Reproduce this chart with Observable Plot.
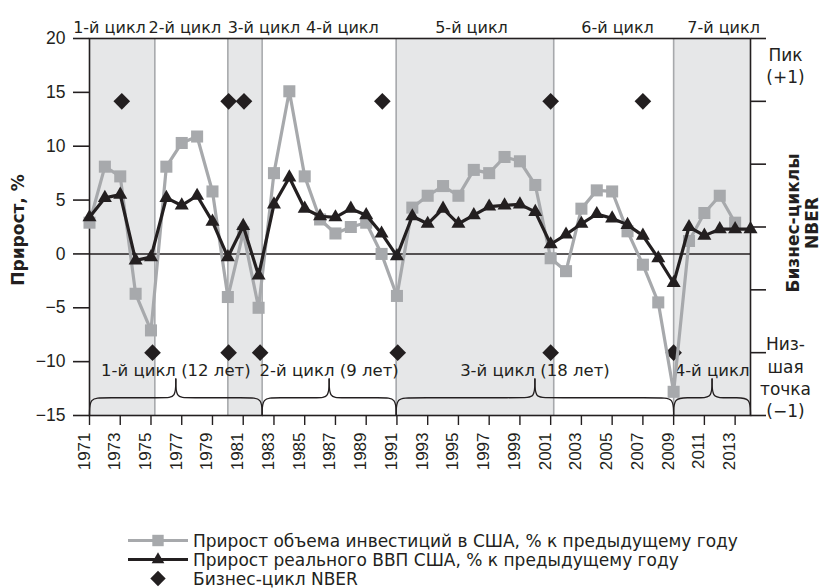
<!DOCTYPE html>
<html><head><meta charset="utf-8">
<script src="https://cdn.jsdelivr.net/npm/d3@7"></script>
<script src="https://cdn.jsdelivr.net/npm/@observablehq/plot@0.6"></script>
<style>
body{margin:0;background:#fff;font-family:"DejaVu Sans",sans-serif;color:#231f20;}
#legend{padding-top:31px;}
.row{display:flex;align-items:center;height:19px;padding-left:128px;font-size:17px;font-family:"DejaVu Sans",sans-serif;}
.row svg{margin-right:5px;}
</style></head><body><div id="chart"></div><div id="legend"></div>
<script>
const years = [1971,1972,1973,1974,1975,1976,1977,1978,1979,1980,1981,1982,1983,1984,1985,1986,1987,1988,1989,1990,1991,1992,1993,1994,1995,1996,1997,1998,1999,2000,2001,2002,2003,2004,2005,2006,2007,2008,2009,2010,2011,2012,2013,2014];
const investment = [2.9,8.1,7.2,-3.7,-7.1,8.1,10.3,10.9,5.8,-4.0,2.0,-5.0,7.5,15.1,7.2,3.2,1.9,2.5,2.9,0.0,-3.9,4.3,5.4,6.3,5.4,7.8,7.5,9.0,8.6,6.4,-0.4,-1.6,4.2,5.9,5.8,2.1,-1.0,-4.5,-12.8,1.2,3.8,5.4,2.9,null];
const gdp = [3.4,5.2,5.5,-0.6,-0.3,5.2,4.5,5.4,3.0,-0.3,2.6,-2.0,4.6,7.1,4.2,3.5,3.4,4.2,3.6,1.9,-0.2,3.5,2.8,4.2,2.8,3.6,4.4,4.5,4.6,3.9,0.9,1.8,2.8,3.7,3.3,2.7,1.7,-0.4,-2.7,2.5,1.7,2.3,2.3,2.3];
const peakYears = [1973.1,1980.05,1981.05,1990.05,2001,2007];
const troughYears = [1975.1,1980.05,1982.1,1991.05,2001,2009];
const cycleBounds = [1975.25,1980.0,1982.23,1990.95,2001.2,2009.0];
const shadeStarts = [1971,1980.0,1990.95,2009.0];
const shadeEnds = [1975.25,1982.23,2001.2,2014];
const topLabels = ["1-й цикл","2-й цикл","3-й цикл","4-й цикл","5-й цикл","6-й цикл","7-й цикл"];
const topLabelX = [1972.3,1977.2,1982.35,1987.45,1995.85,2005.35,2012.25];
const braceStarts = [1971,1982.23,1990.95,2009.0];
const braceEnds = [1982.23,1990.95,2009.0,2014];
const braceLabels = ["1-й цикл (12 лет)","2-й цикл (9 лет)","3-й цикл (18 лет)","4-й цикл"];
const leftTicks = [-15,-10,-5,0,5,10,15,20];
const rightTicks = [-1.5,-1,-0.5,0,0.5,1,1.5];
const rightLabels = ["Пик\n(+1)","Низ-\nшая\nточка\n(−1)"];
const rightLabelPos = [1.29,-1.19];
const xTicks = [1971,1973,1975,1977,1979,1981,1983,1985,1987,1989,1991,1993,1995,1997,1999,2001,2003,2005,2007,2009,2011,2013];
const legendItems = ["Прирост объема инвестиций в США, % к предыдущему году","Прирост реального ВВП США, % к предыдущему году","Бизнес-цикл NBER"];

const INK = "#231f20", GRAY = "#a7a9ac", SHADE = "#e6e7e8";
const FONT = '"DejaVu Sans", sans-serif';
const NUMFONT = '"Liberation Sans", Arial, sans-serif';
const Y0 = -15, Y1 = 20;
const toLeft = r => (r + 1.5) / 3 * (Y1 - Y0) + Y0;
const fmt = d => d < 0 ? "−" + Math.abs(d) : String(d);
const none = () => "";

const inv = years.map((x,i)=>({x, v: investment[i]})).filter(d=>d.v!=null);
const gd = years.map((x,i)=>({x, v: gdp[i]}));
const peaks = peakYears.map(x=>({x, v: toLeft(1)}));
const troughs = troughYears.map(x=>({x, v: toLeft(-1)}));
const shades = shadeStarts.map((s,i)=>({x1:s, x2:shadeEnds[i]}));
const tops = topLabels.map((t,i)=>({t, x: topLabelX[i]}));

// brace geometry (control points for a basis curve)
const bLine = -13.35, bTip = -11.6, rEnd = 0.9, rMid = 0.7;
const braces = [];
const braceText = [];
braceStarts.forEach((a,i)=>{
  const b = braceEnds[i], m = (a+b)/2;
  const left = [[a,Y0],[a,bLine],[a+rEnd,bLine],[m-rMid,bLine],[m,bLine],[m,bTip]];
  const right = [[m,bTip],[m,bLine],[m+rMid,bLine],[b-rEnd,bLine],[b,bLine],[b,Y0]];
  left.forEach(p=>braces.push({x:p[0], y:p[1], z:i+"L"}));
  right.forEach(p=>braces.push({x:p[0], y:p[1], z:i+"R"}));
  braceText.push({x:m, t:braceLabels[i]});
});
const rLabels = rightLabels.map((t,i)=>({t, y: toLeft(rightLabelPos[i])}));

const chart = Plot.plot({
  width: 822, height: 500,
  marginLeft: 89, marginRight: 72, marginTop: 38, marginBottom: 85,
  x: {domain: [1971, 2014]},
  y: {domain: [Y0, Y1]},
  style: {fontFamily: FONT, fontSize: "17px", color: INK, background: "#fff"},
  marks: [
    Plot.rect(shades, {x1: "x1", x2: "x2", fill: SHADE}),
    Plot.ruleX(cycleBounds, {stroke: GRAY, strokeWidth: 1.6}),
    Plot.ruleY([0], {stroke: INK, strokeWidth: 1.5}),
    Plot.line(braces, {x: "x", y: "y", z: "z", curve: "basis", stroke: INK, strokeWidth: 1.3}),
    Plot.text(braceText, {x: "x", y: -10.85, text: "t", fontSize: 16.5, fontFamily: FONT, fill: INK}),
    Plot.frame({stroke: INK, strokeWidth: 1.6}),
    Plot.axisY({anchor: "left", ticks: leftTicks, tickSize: 16, tickFormat: none, label: null, strokeWidth: 1.6}),
    Plot.text(leftTicks, {y: d => d, text: fmt, frameAnchor: "left", textAnchor: "end", dx: -24, fontSize: 17.5, fontFamily: NUMFONT, fill: INK}),
    Plot.axisY({anchor: "right", ticks: rightTicks.map(toLeft), tickSize: 15, tickFormat: none, label: null, strokeWidth: 1.6}),
    Plot.axisX({ticks: xTicks, tickSize: 10, tickFormat: none, label: null, strokeWidth: 1.4}),
    Plot.text(xTicks, {x: d => d, text: d => String(d), frameAnchor: "bottom", rotate: -90, textAnchor: "end", dy: 17, fontSize: 17, fontFamily: NUMFONT, fill: INK}),
    Plot.dot(peaks, {x: "x", y: "v", symbol: "diamond2", r: 7.5, fill: INK, stroke: null}),
    Plot.dot(troughs, {x: "x", y: "v", symbol: "diamond2", r: 7.5, fill: INK, stroke: null}),
    Plot.line(inv, {x: "x", y: "v", stroke: GRAY, strokeWidth: 3.2}),
    Plot.dot(inv, {x: "x", y: "v", symbol: "square", r: 6.8, fill: GRAY, stroke: null}),
    Plot.line(gd, {x: "x", y: "v", stroke: INK, strokeWidth: 3.2}),
    Plot.dot(gd, {x: "x", y: "v", symbol: "triangle", r: 5.2, fill: INK, stroke: null}),
    Plot.text(tops, {x: "x", text: "t", frameAnchor: "top", dy: -17, fontSize: 16, fontFamily: FONT, fill: INK}),
    Plot.text(rLabels, {y: "y", text: "t", frameAnchor: "right", textAnchor: "middle", dx: 35, fontSize: 17, fontFamily: FONT, lineHeight: 1.3, fill: INK}),
    Plot.text(["Прирост, %"], {text: d => d, frameAnchor: "left", textAnchor: "middle", dx: -71, dy: 3, rotate: -90, fontSize: 17, fontFamily: FONT, fontWeight: "bold", fill: INK}),
    Plot.text(["Бизнес-циклы\nNBER"], {text: d => d, frameAnchor: "right", textAnchor: "middle", dx: 52, dy: -4, rotate: -90, fontSize: 17, fontFamily: FONT, fontWeight: "bold", lineHeight: 1.1, fill: INK})
  ]
});
document.getElementById("chart").appendChild(chart);

// legend
const legend = d3.select("#legend");
const swatch = [
  {stroke: GRAY, sym: d3.symbolSquare, size: 130},
  {stroke: INK, sym: d3.symbolTriangle, size: 70},
  {stroke: null, sym: d3.symbolDiamond2, size: 150}
];
legendItems.forEach((t,i)=>{
  const row = legend.append("div").attr("class","row");
  const s = row.append("svg").attr("width",60).attr("height",19);
  const sw = swatch[i];
  if (sw.stroke) s.append("line").attr("x1",0).attr("x2",60).attr("y1",9.5).attr("y2",9.5).attr("stroke",sw.stroke).attr("stroke-width",3);
  s.append("path").attr("d", d3.symbol(sw.sym, sw.size)()).attr("transform","translate(30,9.5)").attr("fill", sw.stroke || INK);
  row.append("span").text(t);
});
</script>
</body></html>
